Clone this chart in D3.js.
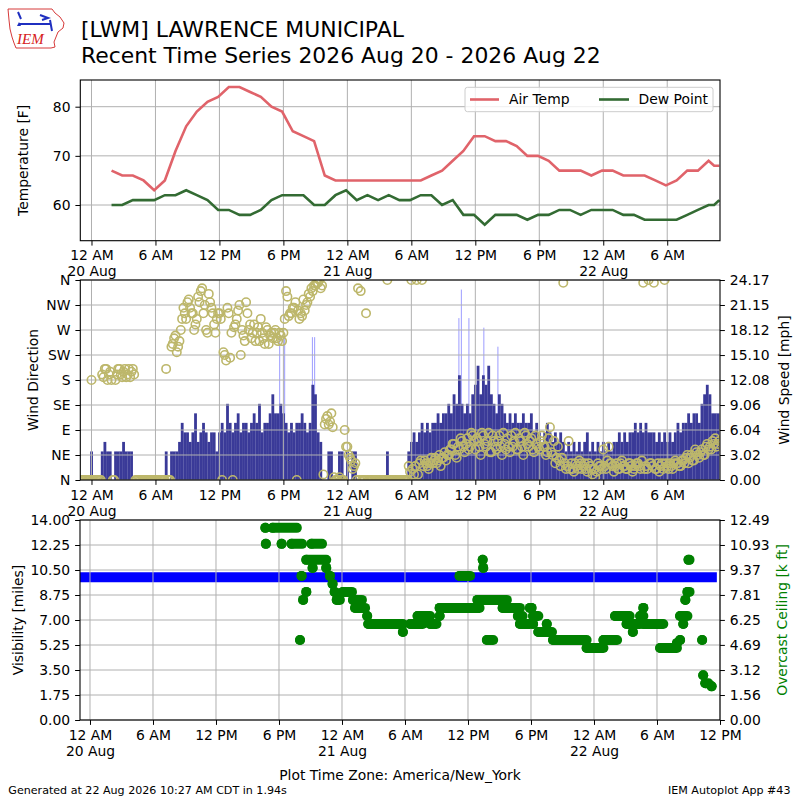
<!DOCTYPE html>
<html>
<head>
<meta charset="utf-8">
<script src="https://cdn.jsdelivr.net/npm/d3@7"></script>
<style>
body { margin: 0; background: #fff; }
svg { font-family: "DejaVu Sans", sans-serif; }
</style>
</head>
<body>
<script>
// hours after 20 Aug 00:00 America/New_York
var obsHours = [1.88,2.88,3.88,4.88,5.88,6.88,7.88,8.88,9.88,10.88,11.88,12.88,13.88,14.88,15.88,16.88,17.88,18.88,19.88,20.88,
    21.88,22.88,23.88,24.88,25.88,26.88,27.88,28.88,29.88,30.88,31.88,32.88,33.88,34.88,35.88,36.88,37.88,38.88,39.88,40.88,
    41.88,42.88,43.88,44.88,45.88,46.88,47.88,48.88,49.88,50.88,51.88,52.88,53.88,54.88,55.88,56.88,57.88,58.4,58.88];
var airTemp = [67,66,66,65,63,65,71,76,79,81, 82,84,84,83,82,80,79,75,74,73, 66,65,65,65,65,65,65,65,65,65,
    66,67,69,71,74,74,73,73,72,70, 70,69,67,67,67,66,67,67,66,66, 66,65,64,65,67,67,69,68,68];
var dewPoint = [60,60,61,61,61,62,62,63,62,61, 59,59,58,58,59,61,62,62,62,60, 60,62,63,61,62,61,62,61,61,62,
    62,60,61,58,58,56,58,58,58,57, 58,58,59,59,58,59,59,59,58,58, 57,57,57,57,58,59,60,60,61];

// wind every 15 minutes starting at hour -1 (one row per hour)
var windStart = -1;
var windSpeedKt = [
    0,0,0,0,  3,0,0,0,  3,4,3,3,  0,3,3,3,  4,3,3,3,  0,0,0,0,  0,0,0,0,  0,0,0,0,  3,0,3,3,  3,4,6,5,
    5,4,5,7,  4,5,6,5,  4,5,5,3,  5,6,5,8,  6,5,6,7,  5,6,6,5,  6,7,6,8,  5,6,6,7,  9,7,7,8,  7,6,5,6,
    5,6,6,7,  6,5,6,10, 9,5,4,0,  0,3,3,0,  0,3,3,0,  3,0,3,3,  0,0,0,0,  0,0,0,0,  0,0,0,3,  0,0,0,0,
    0,0,0,3,  4,5,4,5,  6,5,6,5,  6,6,7,6,  7,7,8,7,  9,8,11,8, 7,8,7,9,  10,12,9,11, 10,12,9,8, 7,9,8,7,
    6,7,6,7,  6,6,7,6,  6,7,5,6,  5,4,5,6,  5,4,5,4,  5,4,3,4,  3,4,3,4,  3,4,5,3,  4,3,4,3,  4,3,4,3,
    4,4,5,4,  5,4,5,5,  6,5,6,5,  6,5,5,5,  4,5,4,5,  4,5,4,5,  6,5,6,6,  7,6,7,7,  6,8,9,10, 9,7,7,7];
// direction on the quarter hour
var windDirDeg = [
    0,0,0,0,  180,0,0,0,  190,200,180,195,  0,180,200,190,  195,185,200,195,  190,0,0,0,  0,0,0,0,  0,0,0,0,
    200,0,240,255,  230,250,290,300,  320,310,300,280,  330,340,300,270,  335,310,280,290,  300,0,225,310,
    220,0,280,305,  225,260,320,270,  255,280,265,250,  265,245,270,260,  255,270,250,260,  265,340,295,300,
    310,0,290,295,  305,320,330,340,  350,355,345,10,  110,100,120,5,  0,5,0,90,  60,40,20,30,
    345,340,0,300,  0,0,0,0,  0,0,0,360,  0,0,0,0,  0,0,0,25,  360,10,360,30,  360,35,25,30,
    30,40,35,25,  40,35,45,55,  65,40,55,70,  50,75,60,80,  55,70,45,80,  60,85,50,70,  55,80,45,65,
    75,50,60,85,  55,70,45,80,  60,75,50,65,  55,80,60,50,  95,45,30,60,  25,355,20,70,  30,15,25,35,
    20,30,15,25,  10,5,30,25,  55,20,60,30,  15,30,20,35,  25,20,30,15,  25,30,20,355,  25,360,30,355,
    20,15,30,360,  25,30,20,35,  30,25,35,40,  30,45,35,50,  40,55,45,65,  60,70,75,65];
// direction 7.5 minutes later
var windDirDeg2 = [
    0,0,0,0,  0,0,0,0,  185,200,190,180,  0,190,200,185,  200,190,185,200,  0,0,0,0,  0,0,0,0,  0,0,0,0,
    0,0,245,260,  240,270,310,290,  325,300,270,290,  320,345,315,265,  320,300,265,300,  290,230,215,300,
    265,275,290,315,  270,250,300,280,  265,250,275,290,  255,275,245,265,  265,255,265,250,  290,330,300,310,
    320,305,300,325,  315,335,345,350,  355,360,350,100,  115,105,95,0,  0,0,0,60,  45,35,25,0,
    0,0,0,0,  0,0,0,0,  0,0,0,0,  0,0,0,0,  0,0,0,15,  20,25,10,35,  25,30,20,40,
    35,30,45,40,  50,45,55,65,  45,60,75,60,  65,55,85,70,  75,60,85,65,  70,50,80,60,  70,60,85,55,
    60,80,70,55,  75,60,85,65,  70,55,80,60,  70,60,45,75,  50,70,40,35,  40,30,25,20,  20,30,20,30,
    25,20,30,20,  20,15,25,20,  25,35,30,25,  25,20,30,25,  20,30,25,20,  30,25,35,20,  20,30,25,20,
    30,25,20,30,  20,25,30,30,  25,35,30,45,  40,35,55,45,  50,45,60,55,  55,65,60,70];
var gustHours = [17.65, 18.12, 20.72, 20.93, 34.46, 34.69, 35.4, 36.8, 38.12];
var gustKt = [15, 15, 15, 15, 17, 20, 17, 16, 14];

var visHours = [-0.95, 59.7];
var visMiles = [10, 10];

var ceilStart = [16.7,16.75,17.4,18.25,19.2,21.1,20.0,20.3,20.6,20.15,20.6,21.2,22.5,22.85,23.1,23.3,23.5,24.1,25.05,25.25,
    26.4,26.5,29.8,30.5,31.2,32.4,33.3,33.3,35.2,37.4,37.45,37.8,36.9,39.3,40.75,40.95,41.9,42.05,42.2,42.2,
    42.7,43.5,44.1,47.3,48.9,50.0,51.1,51.7,52.4,52.7,52.7,54.3,55.9,56.2,56.2,56.5,56.7,56.9,57.0,58.3,58.4,58.6,59.2];
var ceilEnd = [16.7,16.75,19.7,18.25,20.2,22.1,20.0,20.3,20.6,20.15,22.5,21.2,22.5,22.85,23.1,23.3,23.8,24.95,25.9,26.2,
    26.4,29.8,29.8,31.7,32.4,33.0,33.3,37.1,36.2,37.4,37.45,38.4,39.7,40.95,41.2,41.9,41.9,42.05,42.7,42.2,
    44.0,43.5,47.3,48.9,50.2,51.4,52.4,51.7,52.7,52.7,54.6,55.9,55.9,56.2,56.9,56.5,56.7,57.1,57.1,58.3,58.4,58.9,59.2];
var ceilKft = [12,11,12,11,11,11,5,7.5,8,9,10,9.5,9.5,9,8.5,8,7.5,8,7.5,7,
    6.5,6,5.5,6,6.5,6,6.5,7,9,10,9.5,5,7.5,7,6.5,6,7,7,6.5,6,
    5.5,6,5,4.5,5,6.5,6,5.5,6.5,7,6,4.5,4.8,5,6.5,6,7.5,8,10,5,2.8,2.3,2.1];

var topTicks = [0,6,12,18,24,30,36,42,48,54];
var bottomTicks = [0,6,12,18,24,30,36,42,48,54,60];
var clockLabels = ['12 AM', '6 AM', '12 PM', '6 PM'];
var dayLabels = ['20 Aug', '21 Aug', '22 Aug'];
var tempTicks = [60, 70, 80];
var dirTicks = [0,45,90,135,180,225,270,315,360];
var dirLabels = ['N','NE','E','SE','S','SW','W','NW','N'];
var speedTicks = [0,3.02,6.04,9.06,12.08,15.10,18.12,21.15,24.17];
var visTicks = [0,1.75,3.5,5.25,7,8.75,10.5,12.25,14];
var ceilTicks = [0,1.56,3.12,4.69,6.25,7.81,9.37,10.93,12.49];

var KT2MPH = 1.15078;
var FS = 13.9;
var gridColor = '#b0b0b0';

var svg = d3.select('body').append('svg').attr('width', 800).attr('height', 800);

var p1 = {l: 80.3, r: 720, t: 80, b: 240.7};
var p2 = {l: 80.3, r: 720, t: 280, b: 480};
var p3 = {l: 80, r: 720, t: 520, b: 720};

var xTop = d3.scaleLinear().domain([-1.05, 58.95]).range([p1.l, p1.r]);
var xBot = d3.scaleLinear().domain([-0.952, 60]).range([p3.l, p3.r]);
var yTemp = d3.scaleLinear().domain([52.74, 85.43]).range([p1.b, p1.t]);
var yDir = d3.scaleLinear().domain([0, 360]).range([p2.b, p2.t]);
var ySpeed = d3.scaleLinear().domain([0, 24.17]).range([p2.b, p2.t]);
var yVis = d3.scaleLinear().domain([0, 14]).range([p3.b, p3.t]);
var yCeil = d3.scaleLinear().domain([0, 12.49]).range([p3.b, p3.t]);

var defs = svg.append('defs');
[p1, p2, p3].forEach(function(p, i) {
    defs.append('clipPath').attr('id', 'clip' + i).append('rect')
        .attr('x', p.l).attr('y', p.t).attr('width', p.r - p.l).attr('height', p.b - p.t);
});

function styleAxis(g) {
    g.attr('font-size', FS).attr('font-family', 'DejaVu Sans');
    g.select('.domain').remove();
    g.selectAll('.tick line').attr('stroke', '#000');
    g.selectAll('.tick text').attr('fill', '#000');
}

function grid(p, x, xticks, y, yticks) {
    var g = svg.append('g').attr('stroke', gridColor).attr('stroke-width', 1);
    xticks.forEach(function(t) {
        g.append('line').attr('x1', x(t)).attr('x2', x(t)).attr('y1', p.t).attr('y2', p.b);
    });
    yticks.forEach(function(t) {
        g.append('line').attr('x1', p.l).attr('x2', p.r).attr('y1', y(t)).attr('y2', y(t));
    });
}

function timeAxis(p, x, ticks) {
    var g = svg.append('g').attr('transform', 'translate(0,' + p.b + ')')
        .call(d3.axisBottom(x).tickValues(ticks).tickSize(4.9).tickPadding(4.9)
            .tickFormat(function(h) { return clockLabels[(h / 6) % 4]; }));
    styleAxis(g);
    g.selectAll('.tick text').each(function(h) {
        if (h % 24 === 0) {
            d3.select(this).append('tspan').attr('x', 0).attr('dy', '1.15em').text(dayLabels[h / 24]);
        }
    });
}

function frame(p) {
    svg.append('rect').attr('x', p.l).attr('y', p.t).attr('width', p.r - p.l).attr('height', p.b - p.t)
        .attr('fill', 'none').attr('stroke', '#000').attr('stroke-width', 1.1);
}

function yLabel(text, x, yMid, color) {
    svg.append('text').attr('transform', 'translate(' + x + ',' + yMid + ') rotate(-90)')
        .attr('text-anchor', 'middle').attr('dominant-baseline', 'central')
        .attr('font-size', FS).attr('fill', color || '#000').text(text);
}

function dirCircles(g, dirs, offset) {
    g.selectAll(null).data(dirs).enter().append('circle')
        .attr('cx', function(d, i) { return xTop(windStart + i * 0.25 + offset); })
        .attr('cy', function(d) { return yDir(d); })
        .attr('r', 4.2).attr('fill', 'none').attr('stroke', '#bdb76b').attr('stroke-width', 1.6);
}

// ---------- header ----------
var logo = svg.append('g');
logo.append('path')
    .attr('d', 'M8,9 L52,9 L55,13 L60,17 L64,23 L63,28 L58,32 L56,37 L54,42 L55,47 L51,48 L16,48 L14,43 L12,37 L10,29 L9,20 Z')
    .attr('fill', 'none').attr('stroke', '#d63a3a').attr('stroke-width', 1);
logo.append('path').attr('d', 'M19,24 L50,24 M18,12 L21,19 M40,15 L48,18 L42,20 M50,20 L52,31')
    .attr('stroke', '#1f2fc0').attr('stroke-width', 2).attr('fill', 'none');
logo.append('path').attr('d', 'M17,26 L21,26 L19,22 Z').attr('fill', '#1f2fc0');
logo.append('text').attr('x', 17).attr('y', 44).attr('font-family', 'Liberation Serif, serif')
    .attr('font-style', 'italic').attr('font-size', 15).attr('fill', '#d62020').text('IEM');

svg.append('text').attr('x', 81).attr('y', 36.7).attr('font-size', 21.9).text('[LWM] LAWRENCE MUNICIPAL');
svg.append('text').attr('x', 81).attr('y', 63.3).attr('font-size', 21.9)
    .text('Recent Time Series 2026 Aug 20 - 2026 Aug 22');

// ---------- panel 1: temperature ----------
grid(p1, xTop, topTicks, yTemp, tempTicks);
var tempLine = d3.line().x(function(d, i) { return xTop(obsHours[i]); }).y(function(d) { return yTemp(d); });
var g1 = svg.append('g').attr('clip-path', 'url(#clip0)');
g1.append('path').attr('d', tempLine(airTemp)).attr('fill', 'none').attr('stroke', '#e0636a').attr('stroke-width', 2.6);
g1.append('path').attr('d', tempLine(dewPoint)).attr('fill', 'none').attr('stroke', '#336b33').attr('stroke-width', 2.6);
frame(p1);
timeAxis(p1, xTop, topTicks);
styleAxis(svg.append('g').attr('transform', 'translate(' + p1.l + ',0)')
    .call(d3.axisLeft(yTemp).tickValues(tempTicks).tickSize(4.9).tickPadding(4.9)));
yLabel('Temperature [F]', 22.5, (p1.t + p1.b) / 2);

var leg = svg.append('g');
leg.append('rect').attr('x', 465).attr('y', 87.3).attr('width', 248).attr('height', 24.4).attr('rx', 2.5)
    .attr('fill', '#fff').attr('fill-opacity', 0.8).attr('stroke', '#cccccc');
leg.append('line').attr('x1', 470).attr('x2', 499).attr('y1', 99.5).attr('y2', 99.5)
    .attr('stroke', '#e0636a').attr('stroke-width', 2.6);
leg.append('text').attr('x', 509).attr('y', 104.3).attr('font-size', FS).text('Air Temp');
leg.append('line').attr('x1', 599).attr('x2', 629).attr('y1', 99.5).attr('y2', 99.5)
    .attr('stroke', '#336b33').attr('stroke-width', 2.6);
leg.append('text').attr('x', 638.5).attr('y', 104.3).attr('font-size', FS).text('Dew Point');

// ---------- panel 2: wind ----------
var g2 = svg.append('g').attr('clip-path', 'url(#clip1)');
g2.selectAll('line.gust').data(gustKt).enter().append('line')
    .attr('x1', function(d, i) { return xTop(gustHours[i]); })
    .attr('x2', function(d, i) { return xTop(gustHours[i]); })
    .attr('y1', ySpeed(0)).attr('y2', function(d) { return ySpeed(d * KT2MPH); })
    .attr('stroke', '#9c9cff').attr('stroke-width', 1);
var barW = xTop(0.25) - xTop(0);
g2.selectAll('rect.spd').data(windSpeedKt).enter().append('rect')
    .attr('x', function(d, i) { return xTop(windStart + i * 0.25) - barW / 2; })
    .attr('width', barW + 0.15)
    .attr('y', function(d) { return ySpeed(d * KT2MPH); })
    .attr('height', function(d) { return ySpeed(0) - ySpeed(d * KT2MPH); })
    .attr('fill', '#3a3a98');
grid(p2, xTop, topTicks, yDir, dirTicks);
var g2b = svg.append('g').attr('clip-path', 'url(#clip1)');
dirCircles(g2b, windDirDeg, 0);
dirCircles(g2b, windDirDeg2, 0.125);
frame(p2);
timeAxis(p2, xTop, topTicks);
styleAxis(svg.append('g').attr('transform', 'translate(' + p2.l + ',0)')
    .call(d3.axisLeft(yDir).tickValues(dirTicks).tickSize(4.9).tickPadding(4.9)
        .tickFormat(function(d, i) { return dirLabels[i]; })));
styleAxis(svg.append('g').attr('transform', 'translate(' + p2.r + ',0)')
    .call(d3.axisRight(ySpeed).tickValues(speedTicks).tickSize(4.9).tickPadding(4.9).tickFormat(d3.format('.2f'))));
yLabel('Wind Direction', 33, (p2.t + p2.b) / 2);
yLabel('Wind Speed [mph]', 783.5, (p2.t + p2.b) / 2);

// ---------- panel 3: visibility / ceiling ----------
var g3 = svg.append('g').attr('clip-path', 'url(#clip2)');
g3.append('path').attr('d', d3.line().x(function(d, i) { return xBot(visHours[i]); }).y(function(d) { return yVis(d); })(visMiles))
    .attr('stroke', '#0000ff').attr('stroke-width', 10).attr('fill', 'none');
grid(p3, xBot, bottomTicks, yVis, visTicks);
var g3b = svg.append('g').attr('clip-path', 'url(#clip2)');
g3b.selectAll('line.ceil').data(ceilKft).enter().append('line')
    .attr('x1', function(d, i) { return xBot(ceilStart[i]); })
    .attr('x2', function(d, i) { return xBot(ceilEnd[i]); })
    .attr('y1', function(d) { return yCeil(d); }).attr('y2', function(d) { return yCeil(d); })
    .attr('stroke', '#008000').attr('stroke-width', 10).attr('stroke-linecap', 'round');
g3b.selectAll('circle.ceil').data(ceilKft).enter().append('circle')
    .attr('cx', function(d, i) { return xBot(ceilStart[i]); })
    .attr('cy', function(d) { return yCeil(d); })
    .attr('r', 5).attr('fill', '#008000');
frame(p3);
timeAxis(p3, xBot, bottomTicks);
styleAxis(svg.append('g').attr('transform', 'translate(' + p3.l + ',0)')
    .call(d3.axisLeft(yVis).tickValues(visTicks).tickSize(4.9).tickPadding(4.9).tickFormat(d3.format('.2f'))));
styleAxis(svg.append('g').attr('transform', 'translate(' + p3.r + ',0)')
    .call(d3.axisRight(yCeil).tickValues(ceilTicks).tickSize(4.9).tickPadding(4.9).tickFormat(d3.format('.2f'))));
yLabel('Visibility [miles]', 17.5, (p3.t + p3.b) / 2);
yLabel('Overcast Ceiling [k ft]', 781.5, (p3.t + p3.b) / 2, '#008000');

// ---------- footer ----------
svg.append('text').attr('x', 400).attr('y', 780).attr('text-anchor', 'middle').attr('font-size', FS)
    .text('Plot Time Zone: America/New_York');
svg.append('text').attr('x', 8.3).attr('y', 793.5).attr('font-size', 11.1)
    .text('Generated at 22 Aug 2026 10:27 AM CDT in 1.94s');
svg.append('text').attr('x', 790.5).attr('y', 793.5).attr('text-anchor', 'end').attr('font-size', 11.1)
    .text('IEM Autoplot App #43');
</script>
</body>
</html>
